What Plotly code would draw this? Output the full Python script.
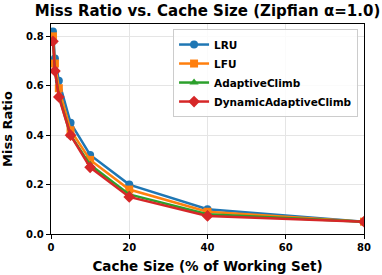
import plotly.graph_objects as go

cache_size = [0.5, 1, 2, 5, 10, 20, 40, 80]
lru = [0.82, 0.71, 0.62, 0.45, 0.32, 0.20, 0.10, 0.05]
lfu = [0.80, 0.69, 0.59, 0.42, 0.30, 0.18, 0.09, 0.05]
adaptive = [0.78, 0.66, 0.56, 0.40, 0.28, 0.16, 0.08, 0.05]
dynamic = [0.78, 0.66, 0.555, 0.40, 0.27, 0.15, 0.073, 0.05]

series = [
    ("LRU", lru, "#1f77b4", "circle"),
    ("LFU", lfu, "#ff7f0e", "square"),
    ("AdaptiveClimb", adaptive, "#2ca02c", "triangle-up"),
    ("DynamicAdaptiveClimb", dynamic, "#d62728", "diamond"),
]

fig = go.Figure()
for name, vals, color, sym in series:
    fig.add_trace(go.Scatter(
        x=cache_size, y=vals, name="<b>" + name + "</b>", mode="lines+markers",
        line=dict(color=color, width=2.5),
        marker=dict(symbol=sym, size=8 if sym != "diamond" else 9, color=color),
        cliponaxis=True,
    ))

font = "DejaVu Sans"
fig.update_layout(
    width=382, height=275,
    margin=dict(l=51, r=18, t=24, b=41, autoexpand=False),
    paper_bgcolor="white", plot_bgcolor="white",
    font=dict(family=font, color="black"),
    title=dict(text="<b>Miss Ratio vs. Cache Size (Zipfian α=1.0)</b>",
               x=(51 + 364) / 2 / 382, xanchor="center", y=1 - 10.5 / 275, yanchor="middle",
               font=dict(size=15, family=font)),
    legend=dict(x=0.981, y=0.976, xanchor="right", yanchor="top",
                bgcolor="rgba(255,255,255,0.85)", bordercolor="#cccccc", borderwidth=1,
                font=dict(size=10.5, family=font), tracegroupgap=0, itemwidth=30),
    showlegend=True,
    hovermode=False,
)
fig.update_xaxes(
    range=[0, 80], tickvals=[0, 20, 40, 60, 80], ticktext=["<b>0</b>", "<b>20</b>", "<b>40</b>", "<b>60</b>", "<b>80</b>"],
    showgrid=True, gridcolor="#e5e5e5", gridwidth=1, automargin=False,
    showline=True, linecolor="black", linewidth=1.2, mirror=True,
    ticks="outside", ticklen=4, tickcolor="black",
    tickfont=dict(size=10, family=font), zeroline=False,
    title=dict(text="<b>Cache Size (% of Working Set)</b>", font=dict(size=13.5, family=font), standoff=9),
)
fig.update_yaxes(
    range=[0, 0.85], tickvals=[0, 0.2, 0.4, 0.6, 0.8],
    ticktext=["<b>0.0</b>", "<b>0.2</b>", "<b>0.4</b>", "<b>0.6</b>", "<b>0.8</b>"],
    showgrid=True, gridcolor="#e5e5e5", gridwidth=1, automargin=False,
    showline=True, linecolor="black", linewidth=1.2, mirror=True,
    ticks="outside", ticklen=4, tickcolor="black",
    tickfont=dict(size=10, family=font), zeroline=False,
    title=dict(text="<b>Miss Ratio</b>", font=dict(size=13, family=font), standoff=11),
)
fig.write_html("out.html", config={"displayModeBar": False, "staticPlot": True},
               post_script="document.body.style.margin='0';")
